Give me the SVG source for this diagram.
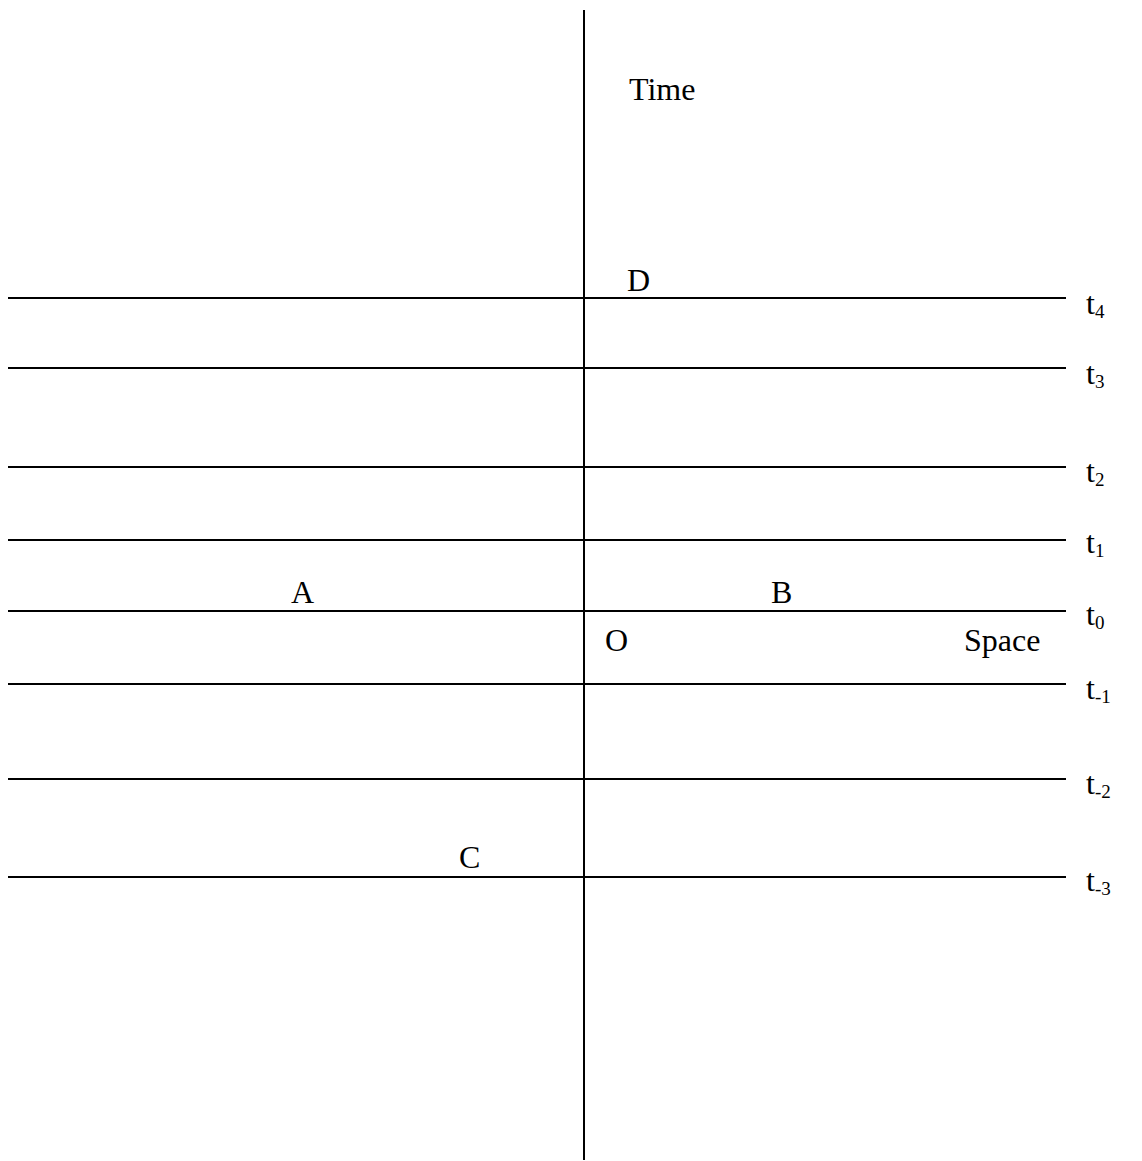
<svg xmlns="http://www.w3.org/2000/svg" width="1142" height="1161" viewBox="0 0 1142 1161">
<style>
.ln{stroke:#000;stroke-width:2;fill:none}
.tx{font-family:"Liberation Serif","Times New Roman",serif;font-size:32px;fill:#000}
.sub{font-size:19px}
</style>
<rect width="1142" height="1161" fill="#fff"/>
<g id="connectors">
<line class="ln" x1="584" y1="10" x2="584" y2="1160"/>
<line class="ln" x1="8" y1="298" x2="1066" y2="298"/>
<line class="ln" x1="8" y1="368" x2="1066" y2="368"/>
<line class="ln" x1="8" y1="467" x2="1066" y2="467"/>
<line class="ln" x1="8" y1="540" x2="1066" y2="540"/>
<line class="ln" x1="8" y1="611" x2="1066" y2="611"/>
<line class="ln" x1="8" y1="684" x2="1066" y2="684"/>
<line class="ln" x1="8" y1="779" x2="1066" y2="779"/>
<line class="ln" x1="8" y1="877" x2="1066" y2="877"/>
</g>
<g id="labels">
<text id="time" class="tx" x="629" y="100">Time</text>
<text id="D" class="tx" x="627" y="291">D</text>
<text id="A" class="tx" x="291" y="603">A</text>
<text id="B" class="tx" x="771" y="603">B</text>
<text id="O" class="tx" x="605" y="651">O</text>
<text id="space" class="tx" x="964" y="651">Space</text>
<text id="C" class="tx" x="459" y="868">C</text>
</g>
<g id="ticks">
<text class="tx" x="1086" y="314">t<tspan class="sub" dy="4">4</tspan></text>
<text class="tx" x="1086" y="384">t<tspan class="sub" dy="4">3</tspan></text>
<text class="tx" x="1086" y="482">t<tspan class="sub" dy="4">2</tspan></text>
<text class="tx" x="1086" y="553">t<tspan class="sub" dy="4">1</tspan></text>
<text class="tx" x="1086" y="625">t<tspan class="sub" dy="4">0</tspan></text>
<text class="tx" x="1086" y="699">t<tspan class="sub" dy="4">-1</tspan></text>
<text class="tx" x="1086" y="794">t<tspan class="sub" dy="4">-2</tspan></text>
<text class="tx" x="1086" y="891">t<tspan class="sub" dy="4">-3</tspan></text>
</g>
</svg>
